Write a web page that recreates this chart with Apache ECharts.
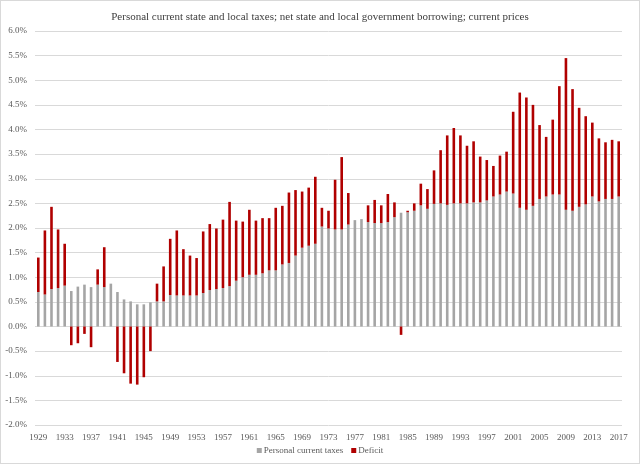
<!DOCTYPE html>
<html>
<head>
<meta charset="utf-8">
<script src="https://cdn.jsdelivr.net/npm/echarts@6/dist/echarts.min.js"></script>
<style>
  html, body { margin: 0; padding: 0; background: #fff; }
  #chart { width: 640px; height: 464px; box-sizing: border-box; border: 1px solid #d9d9d9; }
</style>
</head>
<body>
<div id="chart"></div>
<script>
// years 1929..2017
var years = [];
for (var y = 1929; y <= 2017; y++) years.push(String(y));

// personal current state and local taxes, %
var taxes = [
  0.70, 0.65, 0.76, 0.78, 0.83, 0.72, 0.81, 0.85, 0.80, 0.85,   // 1929-1938
  0.80, 0.87, 0.70, 0.55, 0.51, 0.45, 0.45, 0.49, 0.51, 0.51,   // 1939-1948
  0.64, 0.63, 0.63, 0.63, 0.63, 0.68, 0.74, 0.76, 0.78, 0.82,   // 1949-1958
  0.93, 1.00, 1.05, 1.05, 1.08, 1.14, 1.14, 1.26, 1.29, 1.44,   // 1959-1968
  1.60, 1.64, 1.68, 2.03, 1.99, 1.97, 1.97, 2.07, 2.16, 2.18,   // 1969-1978
  2.12, 2.10, 2.10, 2.12, 2.22, 2.31, 2.32, 2.35, 2.46, 2.39,   // 1979-1988
  2.49, 2.50, 2.47, 2.50, 2.50, 2.50, 2.52, 2.52, 2.56, 2.64,   // 1989-1998
  2.68, 2.74, 2.70, 2.41, 2.37, 2.45, 2.59, 2.64, 2.68, 2.68,   // 1999-2008
  2.37, 2.35, 2.43, 2.48, 2.64, 2.54, 2.59, 2.59, 2.64          // 2009-2017
];

// net state and local government borrowing (deficit), %
var deficit = [
  0.70, 1.30, 1.67, 1.19, 0.85, -0.38, -0.34, -0.15, -0.42, 0.31,
  0.81, 0.00, -0.72, -0.95, -1.16, -1.18, -1.03, -0.50, 0.36, 0.71,
  1.14, 1.32, 0.94, 0.81, 0.76, 1.25, 1.34, 1.23, 1.39, 1.71,
  1.22, 1.13, 1.32, 1.10, 1.12, 1.06, 1.27, 1.19, 1.43, 1.33,
  1.14, 1.18, 1.36, 0.38, 0.36, 1.01, 1.47, 0.64, 0.00, 0.00,
  0.34, 0.47, 0.36, 0.57, 0.30, -0.17, 0.03, 0.15, 0.44, 0.40,
  0.68, 1.08, 1.41, 1.53, 1.38, 1.17, 1.24, 0.93, 0.82, 0.62,
  0.79, 0.81, 1.66, 2.34, 2.28, 2.05, 1.50, 1.21, 1.52, 2.20,
  3.08, 2.47, 2.01, 1.79, 1.50, 1.28, 1.15, 1.20, 1.12
];

var font = '"Liberation Serif", "DejaVu Serif", serif';

var chart = echarts.init(document.getElementById('chart'));
chart.setOption({
  animation: false,
  title: {
    text: 'Personal current state and local taxes; net state and local government borrowing; current prices',
    left: 'center',
    top: 6,
    textStyle: { fontFamily: font, fontSize: 11, fontWeight: 'normal', color: '#404040' }
  },
  legend: {
    bottom: 3,
    left: 'center',
    itemWidth: 5,
    itemHeight: 5,
    itemGap: 8,
    icon: 'rect',
    textStyle: { fontFamily: font, fontSize: 9, color: '#595959', padding: [0, 0, 0, -3] },
    data: ['Personal current taxes', 'Deficit']
  },
  grid: { left: 34, right: 17, top: 30, bottom: 38, containLabel: false },
  xAxis: {
    type: 'category',
    data: years,
    axisLine: { show: false },
    axisTick: { show: false },
    axisLabel: { interval: 3, fontFamily: font, fontSize: 9, color: '#595959', margin: 8 }
  },
  yAxis: {
    type: 'value',
    min: -2,
    max: 6,
    interval: 0.5,
    axisLine: { show: false },
    axisTick: { show: false },
    axisLabel: {
      fontFamily: font, fontSize: 9, color: '#595959', margin: 8,
      formatter: function (v) { return v.toFixed(1) + '%'; }
    },
    splitLine: { lineStyle: { color: '#d9d9d9', width: 1 } }
  },
  series: [
    {
      name: 'Personal current taxes',
      type: 'bar',
      stack: 'total',
      barWidth: 2.6,
      itemStyle: { color: '#a5a5a5' },
      data: taxes
    },
    {
      name: 'Deficit',
      type: 'bar',
      stack: 'total',
      barWidth: 2.6,
      itemStyle: { color: '#b00000' },
      data: deficit
    }
  ]
});
</script>
</body>
</html>
